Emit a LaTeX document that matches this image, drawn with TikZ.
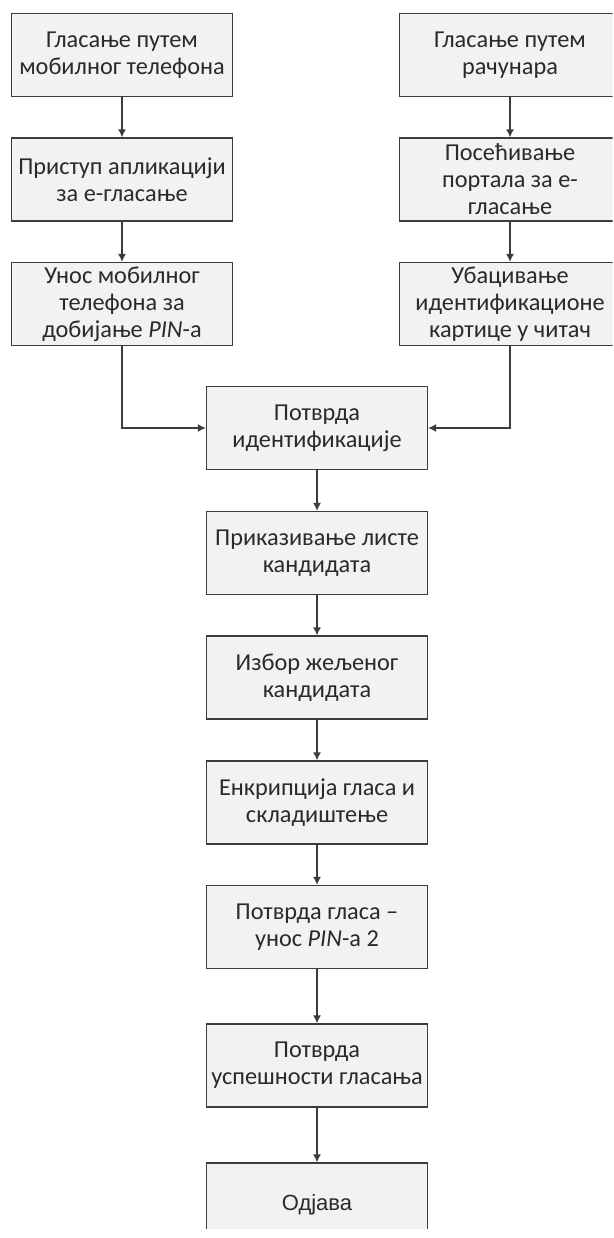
\documentclass[tikz,border=0pt]{standalone}
\usepackage{fontspec}
\setmainfont{Carlito}
\newfontfamily\arialfont{Liberation Sans}
\usetikzlibrary{arrows.meta}
\definecolor{boxfill}{HTML}{F2F2F2}
\definecolor{boxline}{HTML}{3C3C3C}
\definecolor{boxtext}{HTML}{2A2A2A}
\tikzset{
  stepbox/.style={draw=boxline, line width=1.3pt, fill=boxfill, rectangle,
    minimum width=221pt, minimum height=83pt, inner sep=0pt, align=center,
    text=boxtext, font=\fontsize{24.3}{27}\selectfont},
  flow/.style={draw=boxline, line width=1.3pt, -{Latex[length=8pt,width=8pt]}}
}
\begin{document}
\begin{tikzpicture}[x=1pt, y=-1pt]
\useasboundingbox (0,0) rectangle (613,1238);
\fill[white] (0,0) rectangle (613,1238);
\begin{scope}
\clip (0,0) rectangle (612.5,1228);
% left column: mobile phone
\node[stepbox] (m1) at (122,55) {Гласање путем\\мобилног телефона};
\node[stepbox] (m2) at (122,179.5) {Приступ апликацији\\за е-гласање};
\node[stepbox] (m3) at (122,304) {Унос мобилног\\телефона за\\добијање \textit{PIN}-а};
% right column: computer
\node[stepbox] (c1) at (510,55) {Гласање путем\\рачунара};
\node[stepbox] (c2) at (510,179.5) {Посећивање\\портала за е-\\гласање};
\node[stepbox] (c3) at (510,304) {Убацивање\\идентификационе\\картице у читач};
% common sequence
\node[stepbox] (s1) at (317,428) {Потврда\\идентификације};
\node[stepbox] (s2) at (317,553) {Приказивање листе\\кандидата};
\node[stepbox] (s3) at (317,677.5) {Избор жељеног\\кандидата};
\node[stepbox] (s4) at (317,802.5) {Енкрипција гласа и\\складиштење};
\node[stepbox] (s5) at (317,927) {Потврда гласа –\\унос \textit{PIN}-а 2};
\node[stepbox] (s6) at (317,1065.5) {Потврда\\успешности гласања};
\node[stepbox, font=\arialfont\fontsize{22}{26}\selectfont] (s7) at (317,1204.5) {Одјава};
% connectors
\draw[flow] (m1) -- (m2);
\draw[flow] (m2) -- (m3);
\draw[flow] (c1) -- (c2);
\draw[flow] (c2) -- (c3);
\draw[flow] (m3.south) |- (s1.west);
\draw[flow] (c3.south) |- (s1.east);
\draw[flow] (s1) -- (s2);
\draw[flow] (s2) -- (s3);
\draw[flow] (s3) -- (s4);
\draw[flow] (s4) -- (s5);
\draw[flow] (s5) -- (s6);
\draw[flow] (s6) -- (s7);
\end{scope}
\end{tikzpicture}
\end{document}
